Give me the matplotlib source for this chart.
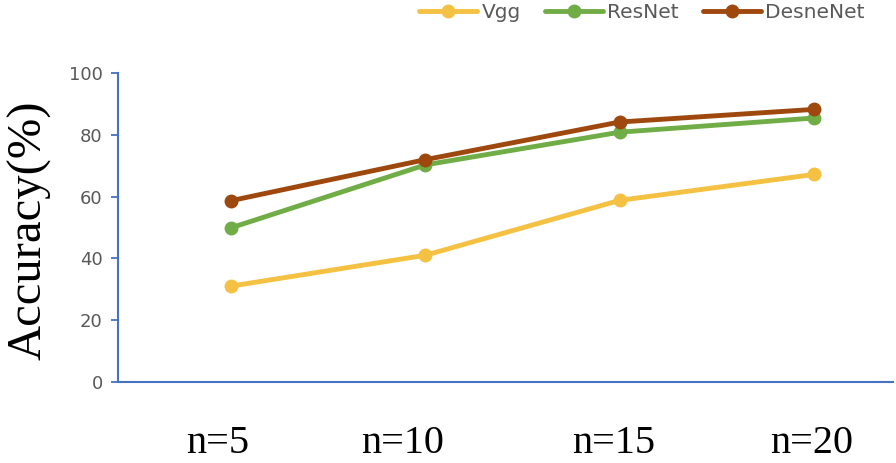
import matplotlib
matplotlib.use("Agg")
import matplotlib.pyplot as plt

categories = ["n=5", "n=10", "n=15", "n=20"]
vgg = [31.0, 41.0, 58.8, 67.2]
resnet = [49.9, 70.3, 80.9, 85.5]
desnenet = [58.7, 72.0, 84.2, 88.3]
series_names = ["Vgg", "ResNet", "DesneNet"]
y_ticks = [0, 20, 40, 60, 80, 100]

colors = ["#F4C142", "#70AD47", "#9E480E"]
blue = "#4472C4"
gray = "#595959"

fig = plt.figure(figsize=(8.96, 4.63), dpi=100)
ax = fig.add_axes([118/896, 1-381.7/463, (893-118)/896, (381.7-73.3)/463])

x = list(range(len(categories)))
handles = []
for name, vals, c in zip(series_names, [vgg, resnet, desnenet], colors):
    h, = ax.plot(x, vals, color=c, lw=3.5, marker="o", markersize=9,
                 solid_capstyle="round", label=name)
    handles.append(h)

ax.set_ylim(0, 100)
ax.set_xlim(-0.5816, 3.407)
ax.set_yticks(y_ticks)
ax.set_yticklabels([str(v) for v in y_ticks], color=gray, fontsize=13,
                   family="DejaVu Sans")
ax.tick_params(axis="y", direction="out", length=5, width=1.3, color=blue, pad=6)

label_shift = [-0.07, -0.115, -0.03, -0.01]
ax.set_xticks([xi + s for xi, s in zip(x, label_shift)])
ax.set_xticklabels(categories, family="Liberation Serif", fontsize=29, color="black")
ax.tick_params(axis="x", length=0, pad=31)

for side in ["top", "right"]:
    ax.spines[side].set_visible(False)
for side in ["left", "bottom"]:
    ax.spines[side].set_color(blue)
    ax.spines[side].set_linewidth(1.5)

fig.text(29/896, 1-230/463, "Accuracy(%)", rotation=90, ha="center", va="center",
         family="Liberation Serif", fontsize=35)

leg = fig.legend(handles=handles, loc="center", bbox_to_anchor=(642/896, 1-13/463),
                 ncol=3, frameon=False, fontsize=14.5, handlelength=2.9,
                 handletextpad=0.2, columnspacing=1.2, borderpad=0)
for t in leg.get_texts():
    t.set_color(gray)

fig.savefig("out.png", dpi=100)
